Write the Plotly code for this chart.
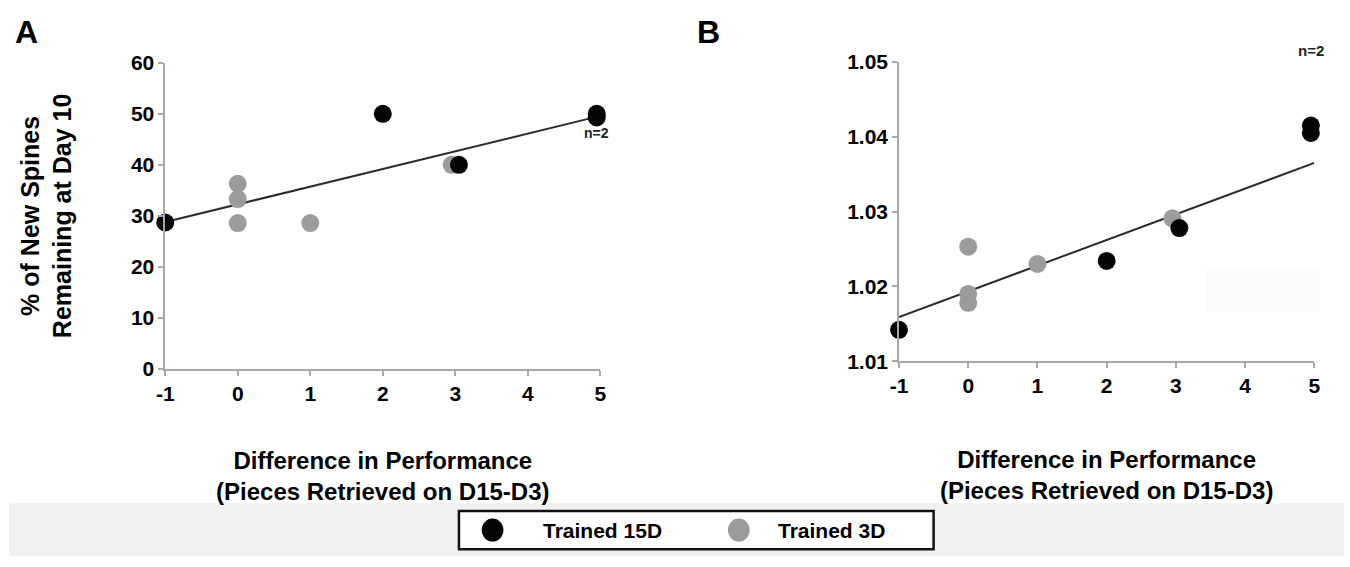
import plotly.graph_objects as go

# ---------------- data ----------------
# Panel A: % of new spines remaining at day 10
a15_x = [-1, 2, 3.05, 4.95, 4.95]
a15_y = [28.7, 50.0, 40.0, 50.0, 49.3]
a3_x = [0, 0, 0, 1, 2.95]
a3_y = [36.3, 33.3, 28.6, 28.6, 40.0]
a_trend_x = [-1, 5]
a_trend_y = [28.8, 49.6]

# Panel B
b15_x = [-1, 2, 3.05, 4.95, 4.95]
b15_y = [1.0142, 1.0234, 1.0278, 1.0415, 1.0405]
b3_x = [0, 0, 0, 1, 2.95]
b3_y = [1.0253, 1.0190, 1.0178, 1.0230, 1.0291]
b_trend_x = [-1, 5]
b_trend_y = [1.0159, 1.0365]

x_ticks = [-1, 0, 1, 2, 3, 4, 5]
a_yticks = [0, 10, 20, 30, 40, 50, 60]
b_yticks = [1.01, 1.02, 1.03, 1.04, 1.05]

series_names = ["Trained 15D", "Trained 3D"]
BLACK = "#050505"
GRAY = "#9b9b9b"
FONT = "Liberation Sans"
W, H = 1350, 567

fig = go.Figure()

def add_panel(xa, ya, x15, y15, x3, y3, tx, ty):
    fig.add_trace(go.Scatter(x=tx, y=ty, mode="lines", xaxis=xa, yaxis=ya,
                             line=dict(color="#2b2b2b", width=2), showlegend=False,
                             hoverinfo="skip"))
    fig.add_trace(go.Scatter(x=x3, y=y3, mode="markers", xaxis=xa, yaxis=ya,
                             name=series_names[1], showlegend=False, cliponaxis=False,
                             marker=dict(color=GRAY, size=18, line=dict(width=0))))
    fig.add_trace(go.Scatter(x=x15, y=y15, mode="markers", xaxis=xa, yaxis=ya,
                             name=series_names[0], showlegend=False, cliponaxis=False,
                             marker=dict(color=BLACK, size=18, line=dict(width=0))))

add_panel("x", "y", a15_x, a15_y, a3_x, a3_y, a_trend_x, a_trend_y)
add_panel("x2", "y2", b15_x, b15_y, b3_x, b3_y, b_trend_x, b_trend_y)

axis_common = dict(showgrid=False, zeroline=False, showline=True, linecolor="#a8a8a8",
                   linewidth=1.5, ticks="outside", ticklen=5, tickcolor="#a8a8a8",
                   tickwidth=1.5,
                   tickfont=dict(family=FONT, size=21, color="black", weight="bold"))
XT = "Difference in Performance<br>(Pieces Retrieved on D15-D3)"
xfont = dict(family=FONT, size=24, color="black", weight="bold")

fig.update_layout(
    width=W, height=H, margin=dict(l=0, r=0, t=0, b=0),
    paper_bgcolor="white", plot_bgcolor="white", showlegend=False,
    xaxis=dict(axis_common, domain=[158 / W, 598 / W], range=[-1, 5],
               tickvals=x_ticks, ticktext=[str(v) for v in x_ticks],
               title=dict(text=XT, font=xfont, standoff=48), anchor="y"),
    yaxis=dict(axis_common, domain=[1 - 372 / H, 1 - 53 / H], range=[0, 60],
               tickvals=a_yticks, ticktext=[str(v) for v in a_yticks], anchor="x",
               title=dict(text="% of New Spines<br>Remaining at Day 10",
                          font=dict(family=FONT, size=25, color="black", weight="bold"),
                          standoff=52)),
    xaxis2=dict(axis_common, domain=[900 / W, 1320 / W], range=[-1, 5],
                tickvals=x_ticks, ticktext=[str(v) for v in x_ticks],
                title=dict(text=XT, font=xfont, standoff=55), anchor="y2"),
    yaxis2=dict(axis_common, domain=[1 - 364 / H, 1 - 52 / H], range=[1.01, 1.05],
                tickvals=b_yticks, ticktext=[f"{v:.2f}" for v in b_yticks], anchor="x2"),
)

# bottom grey band and faint box in panel B
fig.add_shape(type="rect", xref="paper", yref="paper", x0=0, x1=1, y0=0, y1=1 - 512 / H,
              fillcolor="#f1f1f1", line=dict(width=0), layer="below")
fig.add_shape(type="rect", xref="paper", yref="paper", x0=1210 / W, x1=1325 / W,
              y0=1 - 312 / H, y1=1 - 268 / H, fillcolor="#fbfbfb", line=dict(width=0),
              layer="below")

# panel letters
for txt, xp in [("A", 4), ("B", 694)]:
    fig.add_annotation(text=txt, xref="paper", yref="paper", x=xp / W, y=1,
                       xanchor="left", yanchor="top", showarrow=False,
                       font=dict(family=FONT, size=32, color="black", weight="bold"))

# n=2 labels
fig.add_annotation(text="n=2", x=4.95, y=50, xref="x", yref="y", showarrow=False,
                   yshift=-19, font=dict(family=FONT, size=14, color="#222", weight="bold"))
fig.add_annotation(text="n=2", x=4.95, y=1.0415, xref="x2", yref="y2", showarrow=False,
                   yshift=75, font=dict(family=FONT, size=15, color="#222", weight="bold"))

# legend box (drawn)
fig.add_shape(type="rect", xref="paper", yref="paper", x0=455 / W, x1=935 / W,
              y0=1 - 560 / H, y1=1 - 520 / H, fillcolor="white",
              line=dict(color="#111", width=2.5))
for cx, col, name, tx in [(489, BLACK, series_names[0], 538), (738, GRAY, series_names[1], 776)]:
    fig.add_shape(type="circle", xref="paper", yref="paper",
                  x0=(cx - 11) / W, x1=(cx + 11) / W, y0=1 - 552 / H, y1=1 - 528 / H,
                  fillcolor=col, line=dict(width=0))
    fig.add_annotation(text=name, xref="paper", yref="paper", x=tx / W, y=1 - 540 / H,
                       xanchor="left", yanchor="middle", showarrow=False,
                       font=dict(family=FONT, size=21, color="black", weight="bold"))

fig.write_html("out.html", config={"displayModeBar": False},
               post_script="document.body.style.margin='0';document.body.style.overflow='hidden';")
